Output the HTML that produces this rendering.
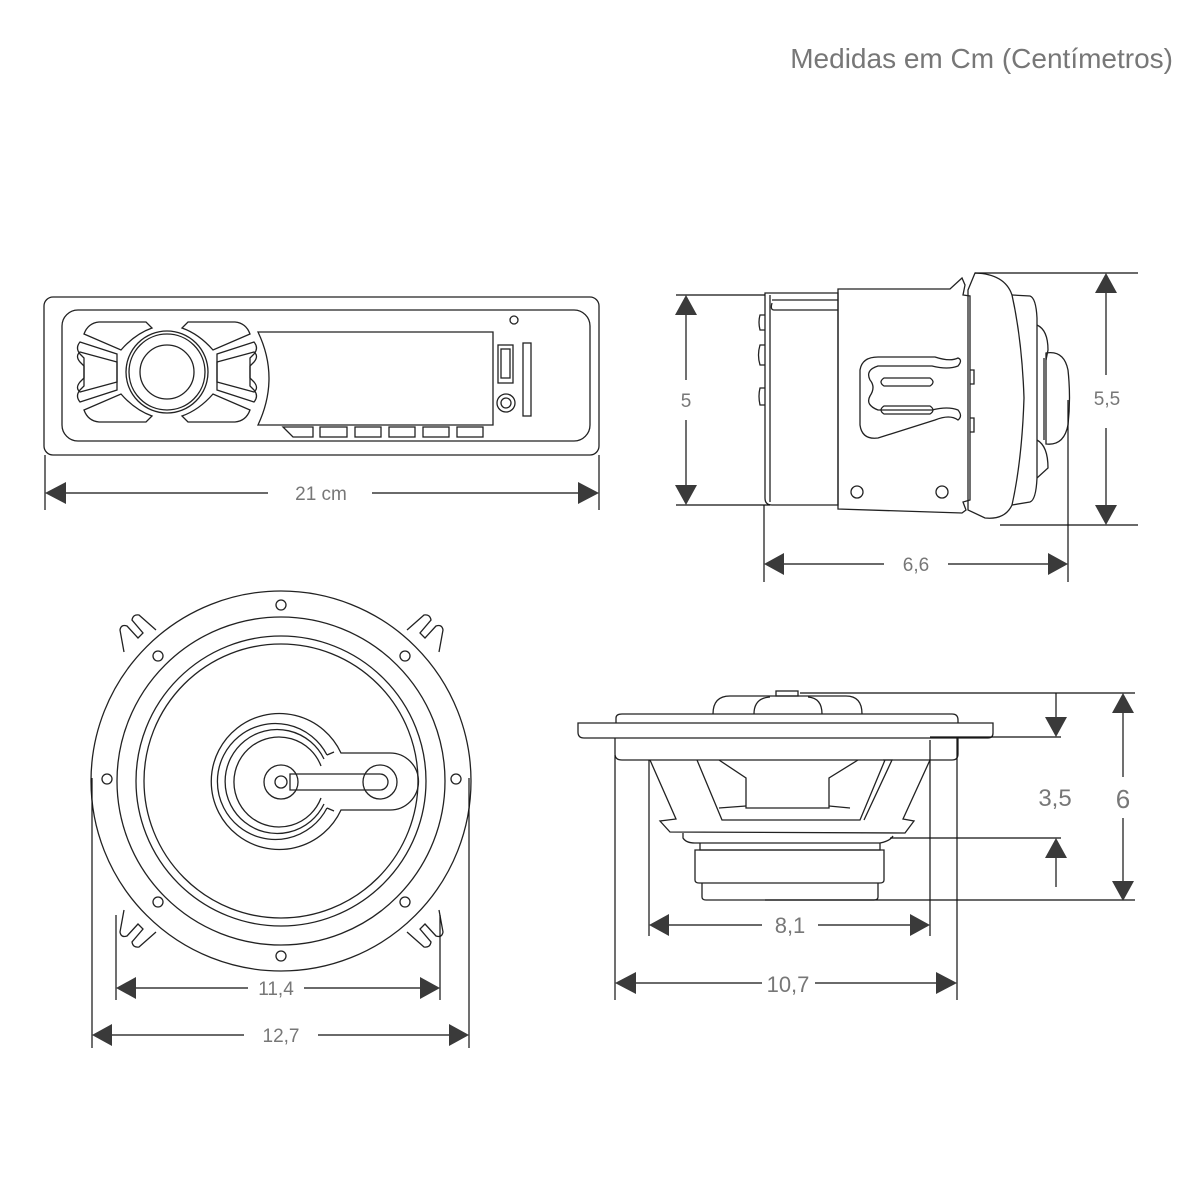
<!DOCTYPE html>
<html><head><meta charset="utf-8"><style>
html,body{margin:0;padding:0;background:#fff}
svg{display:block}
text{font-family:"Liberation Sans",sans-serif;fill:#777}
</style></head><body>
<svg width="1200" height="1200" viewBox="0 0 1200 1200" xmlns="http://www.w3.org/2000/svg">
<text x="1173" y="68" font-size="28" text-anchor="end" style="fill:#777">Medidas em Cm (Centímetros)</text>

<g fill="none" stroke="#222" stroke-width="1.3">
<!-- RADIO -->
<rect x="44" y="297" width="555" height="158" rx="9"/>
<rect x="62" y="310" width="528" height="131" rx="16"/>
<path d="M258 332 L493 332 L493 425 L258 425 Q280 378 258 332Z"/>
<circle cx="167" cy="372" r="41"/><circle cx="167" cy="372" r="38"/><circle cx="167" cy="372" r="27"/>
<g id="pt">
<path d="M84 334 Q88 323 99 322 L146 322 L152 328 Q135 334 121 350 Z"/>
<path d="M80 352 L117 362 L117 390 L80 402 Q75 396 80 390 L84 386 L84 366 L80 362 Q75 356 80 352Z"/>
</g>
<use href="#pt" transform="translate(334,0) scale(-1,1)"/>
<use href="#pt" transform="translate(0,744) scale(1,-1)"/>
<use href="#pt" transform="translate(334,744) scale(-1,-1)"/>
<path d="M283 427 L313 427 L313 437 L293 437 Z"/>
<rect x="320" y="427" width="27" height="10"/><rect x="355" y="427" width="26" height="10"/><rect x="389" y="427" width="26" height="10"/><rect x="423" y="427" width="26" height="10"/><rect x="457" y="427" width="26" height="10"/>
<rect x="498" y="345" width="15" height="38"/><rect x="501" y="349" width="9" height="29"/>
<circle cx="506" cy="403" r="9"/><circle cx="506" cy="403" r="5"/>
<rect x="523" y="343" width="8" height="73"/>
<circle cx="514" cy="320" r="4"/>

<!-- SIDE VIEW RADIO -->
<path d="M765 293 L838 293 L838 505 L772 505 Q765 505 765 498 Z"/>
<path d="M770 295 L770 502"/><path d="M772 303 Q770 310 774 310 L838 310"/><path d="M772 300 L838 300"/>
<path d="M765 315 L760 315 Q758 322 760 330 L765 330"/>
<path d="M765 345 L760 345 Q757 355 760 365 L765 365"/>
<path d="M765 388 L760 388 Q758 396 760 405 L765 405"/>
<path d="M838 289 L950 289 L962 278 L965 285 L963 295 L970 296 L970 500 L963 502 L966 510 L962 513 L838 509 Z"/>
<circle cx="857" cy="492" r="6"/><circle cx="942" cy="492" r="6"/>
<path d="M970 370 L974 370 L974 384 L970 384"/><path d="M970 418 L974 418 L974 432 L970 432"/>
<path d="M878 357 L935 357 Q950 362 958 358 Q963 360 958 366 Q948 370 932 366 L878 366 Q865 370 870 380 Q876 387 870 396 Q865 405 878 410 L932 410 Q948 406 958 410 Q963 416 958 420 Q950 414 935 420 L878 438 Q862 440 860 425 L860 370 Q862 357 878 357Z"/>
<path d="M884 378 L930 378 Q936 382 930 386 L884 386 Q878 382 884 378Z"/>
<path d="M884 406 L930 406 Q936 410 930 414 L884 414 Q878 410 884 406Z"/>
<path d="M975 273 Q1005 274 1012 295 Q1022 340 1024 398 Q1022 460 1012 505 Q1005 520 985 518 L968 510 L968 290 Z"/>
<path d="M1012 295 L1030 296 Q1036 298 1037 318 L1037 478 Q1036 500 1030 502 L1012 505"/>
<path d="M1037 325 Q1048 330 1048 350 L1046 360 M1037 440 Q1048 446 1048 468 L1037 478"/>
<path d="M1046 353 Q1064 350 1068 370 Q1071 398 1068 425 Q1064 446 1046 444 Z"/>
<path d="M1044 358 L1044 440"/>

<!-- SPEAKER FRONT -->
<circle cx="281" cy="781" r="190"/>
<circle cx="281" cy="781" r="164"/>
<circle cx="281" cy="781" r="145"/>
<circle cx="281" cy="781" r="137"/>
<circle cx="281" cy="605" r="5"/><circle cx="281" cy="956" r="5"/><circle cx="107" cy="779" r="5"/><circle cx="456" cy="779" r="5"/>
<circle cx="158" cy="656" r="5"/><circle cx="405" cy="656" r="5"/><circle cx="158" cy="902" r="5"/><circle cx="405" cy="902" r="5"/>
<g id="tab"><path d="M124 652 L120 630 Q121 624 127 626 L138 638 L143 633 L132 620 Q133 614 139 615 L156 630"/></g>
<use href="#tab" transform="translate(563,0) scale(-1,1)"/>
<use href="#tab" transform="translate(0,1562) scale(1,-1)"/>
<use href="#tab" transform="translate(563,1562) scale(-1,-1)"/>
<path d="M341 753 A68 68 0 1 0 341 810 L390 810 A28 28 0 0 0 390 753 Z"/>
<path d="M327 755 A58 58 0 1 0 327 808"/>
<path d="M324 759 A52 52 0 1 0 324 804 M334 752 L327 755 M334 811 L327 808"/>
<path d="M321 766 A45 45 0 1 0 321 798"/>
<circle cx="281" cy="782" r="17"/><circle cx="281" cy="782" r="6"/>
<circle cx="380" cy="782" r="17"/>
<path d="M290 774 L380 774 A8 8 0 0 1 380 790 L290 790 Z"/>

<!-- SPEAKER SIDE -->
<path d="M713 714 Q713 696 730 696 L846 696 Q862 696 862 714"/>
<path d="M754 714 Q754 698 770 697 M822 714 Q822 698 808 697"/>
<rect x="776" y="691" width="22" height="5"/>
<path d="M616 723 L616 718 Q616 714 622 714 L952 714 Q958 714 958 720 L958 723"/>
<path d="M578 723 L993 723 L993 733 Q993 738 988 738 L584 738 Q578 738 578 732 Z"/>
<path d="M615 738 L615 754 Q615 760 622 760 L952 760 Q958 760 958 754 L958 738"/>
<path d="M650 760 L676 819 L660 821 L670 832 L905 833 L914 821 L903 819 L930 760"/>
<path d="M697 760 L722 820 L860 820 L885 760 M864 820 L892 760 L883 760"/>
<path d="M719 760 L746 778 L746 808 L829 808 L829 778 L858 760"/>
<path d="M719 808 L746 806 M829 806 L850 808"/>
<path d="M683 833 L683 838 Q686 843 695 843 L880 843 Q890 841 893 836"/>
<path d="M700 843 L700 850 L880 850 L880 843"/>
<path d="M695 850 L884 850 L884 880 Q884 883 880 883 L699 883 Q695 883 695 880 Z"/>
<path d="M702 883 L702 897 Q702 900 706 900 L874 900 Q878 900 878 897 L878 883"/>
</g>

<!-- dimension lines -->
<g stroke="#111" stroke-width="1.2" fill="none">
<path d="M45 455 L45 510 M599 455 L599 510"/>
<path d="M65 493 L268 493 M372 493 L580 493"/>
<path d="M676 295 L765 295 M676 505 L770 505 M686 313 L686 380 M686 420 L686 487"/>
<path d="M975 273 L1138 273 M1000 525 L1138 525 M1106 292 L1106 375 M1106 428 L1106 507"/>
<path d="M764 505 L764 582 M1068 400 L1068 582 M784 564 L884 564 M948 564 L1048 564"/>
<path d="M92 778 L92 1048 M469 778 L469 1048 M116 915 L116 1000 M440 915 L440 1000"/>
<path d="M136 988 L248 988 M304 988 L420 988 M112 1035 L244 1035 M318 1035 L449 1035"/>
<path d="M615 755 L615 1000 M957 738 L957 1000 M649 760 L649 936 M930 740 L930 936"/>
<path d="M669 925 L762 925 M818 925 L910 925 M635 983 L762 983 M815 983 L937 983"/>
<path d="M800 693 L1135 693 M765 900 L1135 900 M930 737 L1061 737 M890 838 L1061 838"/>
<path d="M1056 693 L1056 720 M1056 858 L1056 887 M1123 712 L1123 777 M1123 818 L1123 882"/>
</g>
<g fill="#3a3a3a">
<path d="M45 493 L66 482 L66 504Z"/><path d="M599 493 L578 482 L578 504Z"/>
<path d="M686 295 L675 315 L697 315Z"/><path d="M686 505 L675 485 L697 485Z"/>
<path d="M1106 273 L1095 293 L1117 293Z"/><path d="M1106 525 L1095 505 L1117 505Z"/>
<path d="M764 564 L784 553 L784 575Z"/><path d="M1068 564 L1048 553 L1048 575Z"/>
<path d="M116 988 L136 977 L136 999Z"/><path d="M440 988 L420 977 L420 999Z"/>
<path d="M92 1035 L112 1024 L112 1046Z"/><path d="M469 1035 L449 1024 L449 1046Z"/>
<path d="M649 925 L669 914 L669 936Z"/><path d="M930 925 L910 914 L910 936Z"/>
<path d="M615 983 L636 972 L636 994Z"/><path d="M957 983 L936 972 L936 994Z"/>
<path d="M1056 737 L1045 717 L1067 717Z"/><path d="M1056 838 L1045 858 L1067 858Z"/>
<path d="M1123 693 L1112 713 L1134 713Z"/><path d="M1123 901 L1112 881 L1134 881Z"/>
</g>
<g font-size="19" text-anchor="middle">
<text x="321" y="500">21 cm</text>
<text x="686" y="407">5</text>
<text x="1107" y="405">5,5</text>
<text x="916" y="571">6,6</text>
<text x="276" y="995">11,4</text>
<text x="281" y="1042">12,7</text>
<text x="790" y="933" font-size="22">8,1</text>
<text x="788" y="992" font-size="22">10,7</text>
<text x="1055" y="806" font-size="24">3,5</text>
<text x="1123" y="808" font-size="26">6</text>
</g>
</svg>
</body></html>
